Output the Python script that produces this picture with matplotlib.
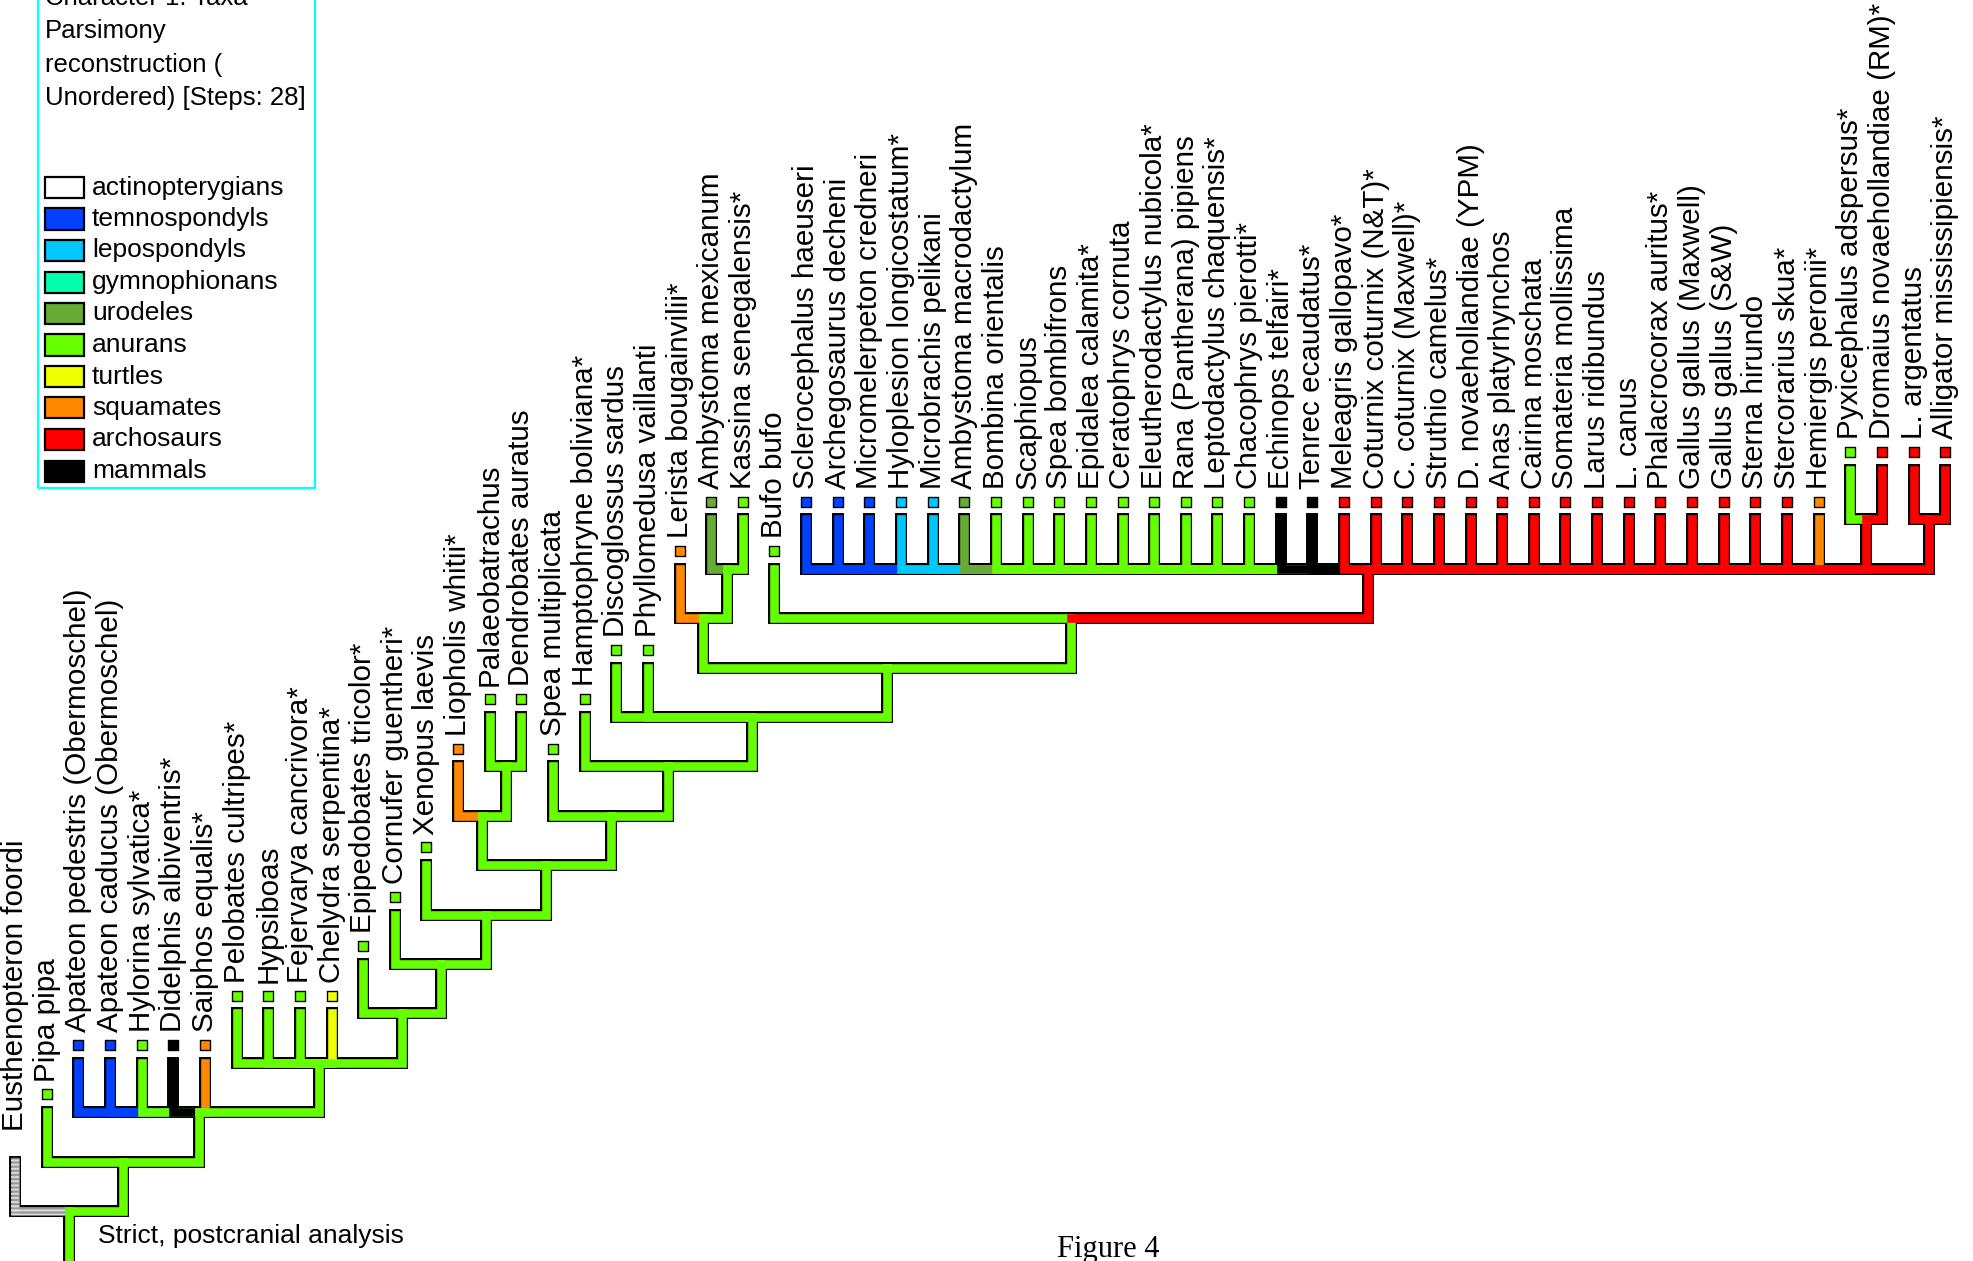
import matplotlib
matplotlib.use('Agg')
import matplotlib.pyplot as plt
from matplotlib.patches import Rectangle

# taxa, left to right along the top of the cladogram
taxa = ['Eusthenopteron foordi', 'Pipa pipa', 'Apateon pedestris (Obermoschel)',
        'Apateon caducus (Obermoschel)', 'Hylorina sylvatica*', 'Didelphis albiventris*',
        'Saiphos equalis*', 'Pelobates cultripes*', 'Hypsiboas', 'Fejervarya cancrivora*',
        'Chelydra serpentina*', 'Epipedobates tricolor*', 'Cornufer guentheri*',
        'Xenopus laevis', 'Liopholis whitii*', 'Palaeobatrachus', 'Dendrobates auratus',
        'Spea multiplicata', 'Hamptophryne boliviana*', 'Discoglossus sardus',
        'Phyllomedusa vaillanti', 'Lerista bougainvilii*', 'Ambystoma mexicanum',
        'Kassina senegalensis*', 'Bufo bufo', 'Sclerocephalus haeuseri',
        'Archegosaurus decheni', 'Micromelerpeton credneri', 'Hyloplesion longicostatum*',
        'Microbrachis pelikani', 'Ambystoma macrodactylum', 'Bombina orientalis',
        'Scaphiopus', 'Spea bombifrons', 'Epidalea calamita*', 'Ceratophrys cornuta',
        'Eleutherodactylus nubicola*', 'Rana (Pantherana) pipiens',
        'Leptodactylus chaquensis*', 'Chacophrys pierotti*', 'Echinops telfairi*',
        'Tenrec ecaudatus*', 'Meleagris gallopavo*', 'Coturnix coturnix (N&T)*',
        'C. coturnix (Maxwell)*', 'Struthio camelus*', 'D. novaehollandiae (YPM)',
        'Anas platyrhynchos', 'Cairina moschata', 'Somateria mollissima',
        'Larus ridibundus', 'L. canus', 'Phalacrocorax auritus*', 'Gallus gallus (Maxwell)',
        'Gallus gallus (S&W)', 'Sterna hirundo', 'Stercorarius skua*', 'Hemiergis peronii*',
        'Pyxicephalus adspersus*', 'Dromaius novaehollandiae (RM)*', 'L. argentatus',
        'Alligator mississipiensis*']

# observed state of character 1 for each taxon ('missing' = no data)
taxon_group = (['missing', 'anurans', 'temnospondyls', 'temnospondyls', 'anurans',
                'mammals', 'squamates', 'anurans', 'anurans', 'anurans', 'turtles',
                'anurans', 'anurans', 'anurans', 'squamates', 'anurans', 'anurans',
                'anurans', 'anurans', 'anurans', 'anurans', 'squamates', 'urodeles',
                'anurans', 'anurans', 'temnospondyls', 'temnospondyls', 'temnospondyls',
                'lepospondyls', 'lepospondyls', 'urodeles']
               + ['anurans'] * 9 + ['mammals', 'mammals'] + ['archosaurs'] * 15
               + ['squamates', 'anurans', 'archosaurs', 'archosaurs', 'archosaurs'])

# topology (taxon indices) with reconstructed state at each internal node
tree = ('(0,(1,(2,3,4,5,6,(7,8,9,10,(11,(12,(13,((14,(15,16)anurans)anurans,'
        '(17,(18,(19,20,((21,(22,23)anurans)anurans,(24,('
        + ','.join(str(i) for i in range(25, 58))
        + ',(58,59)archosaurs,(60,61)archosaurs)archosaurs)anurans)anurans)anurans)'
        'anurans)anurans)anurans)anurans)anurans)anurans)anurans)anurans)anurans)anurans')

legend_names = ['actinopterygians', 'temnospondyls', 'lepospondyls', 'gymnophionans',
                'urodeles', 'anurans', 'turtles', 'squamates', 'archosaurs', 'mammals']
legend_colors = ['#ffffff', '#0041ff', '#00c8ff', '#00ffae', '#66ab33', '#66ff00',
                 '#eeff00', '#ff8800', '#ff0000', '#000000']
state_color = dict(zip(legend_names, legend_colors))
state_color['missing'] = '#9a9a9a'

legend_title = ['Character 1: Taxa', 'Parsimony', 'reconstruction (',
                'Unordered) [Steps: 28]']


def parse(s):
    pos = 0

    def node():
        nonlocal pos
        if s[pos] == '(':
            pos += 1
            kids = [node()]
            while s[pos] == ',':
                pos += 1
                kids.append(node())
            pos += 1
            start = pos
            while pos < len(s) and s[pos] not in ',)':
                pos += 1
            return {'kids': kids, 'state': s[start:pos]}
        start = pos
        while s[pos] not in ',)':
            pos += 1
        i = int(s[start:pos])
        return {'leaf': i, 'state': taxon_group[i]}

    return node()


def layout(n, depth):
    n['y'] = depth
    if 'leaf' in n:
        n['x'] = n['leaf']
    else:
        for k in n['kids']:
            layout(k, depth + 1)
        n['x'] = (n['kids'][0]['x'] + n['kids'][-1]['x']) / 2


def collect(n, parent, out):
    if parent is None:
        path = [(n['x'], n['y']), (n['x'], n['y'] - 1.5)]
    else:
        path = [(n['x'], n['y']), (n['x'], parent['y']), (parent['x'], parent['y'])]
    out.append((path, n))
    for k in n.get('kids', []):
        collect(k, n, out)


root = parse(tree)
layout(root, 0)
branches = []
collect(root, None, branches)

plt.rcParams['hatch.linewidth'] = 1.3

W, H = 1973, 1261
fig = plt.figure(figsize=(W / 100, H / 100), dpi=100)
ax = fig.add_axes([0, 0, 1, 1])
ax.set_xlim(-15.1 / 31.64, (W - 15.1) / 31.64)
ax.set_ylim(-50 / 49.4, (H - 50) / 49.4)
ax.axis('off')

outer_w, inner_w = 8.6, 6.2
for path, n in branches:
    xs, ys = zip(*path)
    ax.plot(xs, ys, color='black', lw=outer_w, solid_capstyle='projecting',
            solid_joinstyle='miter', zorder=1)
for path, n in branches:
    xs, ys = zip(*path)
    ax.plot(xs, ys, color=state_color[n['state']], lw=inner_w,
            solid_capstyle='projecting', solid_joinstyle='miter', zorder=2)
    if n['state'] == 'missing':
        # striped fill for the taxon without data
        hx = inner_w / 2 / 72 * 100 / 31.64
        hy = inner_w / 2 / 72 * 100 / 49.4
        (x0, y0), (x1, y1), (x2, y2) = path
        ax.add_patch(Rectangle((x0 - hx, y1 - hy), 2 * hx, y0 - y1 + 2 * hy,
                               fill=False, hatch='----', ec='#dcdcdc', lw=0, zorder=3))
        ax.add_patch(Rectangle((x1 - hx, y1 - hy), x2 - x1, 2 * hy,
                               fill=False, hatch='----', ec='#dcdcdc', lw=0, zorder=3))

leaves = [n for _, n in branches if 'leaf' in n]
for n in leaves:
    i = n['leaf']
    if taxon_group[i] != 'missing':
        ax.scatter(n['x'], n['y'] + 0.36, marker='s', s=50, color=state_color[taxon_group[i]],
                   edgecolors='black', linewidths=1.0, zorder=4)
    ax.text(n['x'], n['y'] + 0.62, taxa[i], rotation=90, rotation_mode='anchor',
            ha='left', va='center', fontsize=21.3, family='Liberation Sans', zorder=5)


def fx(px):
    return px / W


def fy(py):
    return 1 - py / H


# legend box, its top runs past the top edge
fig.patches.append(Rectangle((fx(38), fy(488)), fx(315) - fx(38), fy(-30) - fy(488),
                             transform=fig.transFigure, fill=False, ec='#00ffff', lw=1.6))
for k, line in enumerate(legend_title):
    fig.text(fx(45), fy(-2 + 33.4 * k), line, ha='left', va='center', fontsize=18.5,
             family='Liberation Sans')
for k, (name, col) in enumerate(zip(legend_names, legend_colors)):
    yc = 187.5 + 31.5 * k
    fig.patches.append(Rectangle((fx(45), fy(yc + 10.5)), fx(84) - fx(45), fy(yc - 10.5) - fy(yc + 10.5),
                                 transform=fig.transFigure, fc=col, ec='black', lw=1.6))
    fig.text(fx(92), fy(yc), name, ha='left', va='center', fontsize=19,
             family='Liberation Sans')

fig.text(fx(98), fy(1236), 'Strict, postcranial analysis', ha='left', va='center',
         fontsize=19, family='Liberation Sans')
fig.text(fx(1108), fy(1257), 'Figure 4', ha='center', va='baseline', fontsize=22,
         family='Liberation Serif')

fig.savefig('out.png', dpi=100)
